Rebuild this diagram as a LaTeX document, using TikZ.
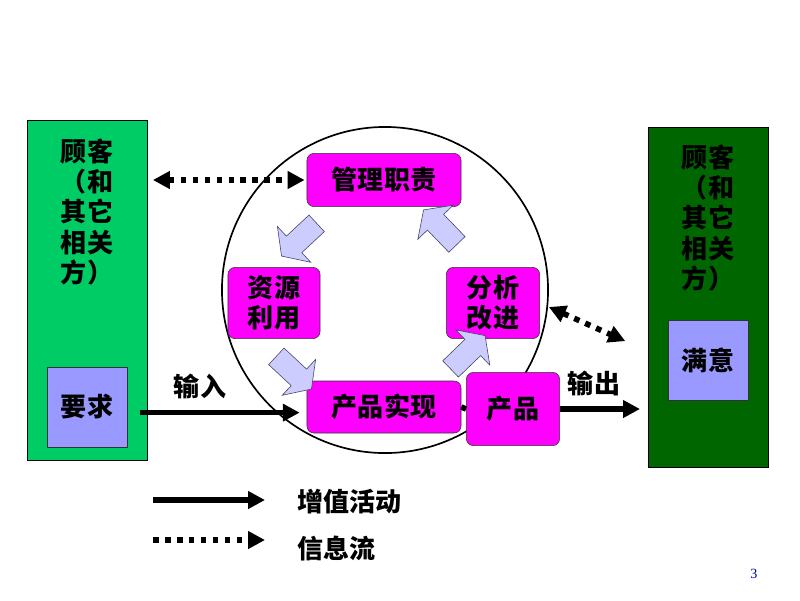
\documentclass[tikz,border=0pt]{standalone}
\usepackage{fontspec}
\setmainfont{Noto Sans CJK SC}
\newfontfamily\pagefont{Liberation Serif}
\usetikzlibrary{arrows.meta,shapes.arrows}
\definecolor{custgreen}{HTML}{00CC66}
\definecolor{custdark}{HTML}{006600}
\definecolor{reqblue}{HTML}{9999FF}
\definecolor{procmag}{HTML}{FF00FF}
\definecolor{turnfill}{HTML}{CCCCFF}
\definecolor{turnline}{HTML}{404060}
\tikzset{
	txt/.style={font=\bfseries\fontsize{18.5pt}{21.5pt}\selectfont,align=center,inner sep=0pt},
	cust/.style={draw,minimum width=3cm,minimum height=8.5cm,inner sep=0pt},
	want/.style={txt,draw=black!80,fill=reqblue,minimum width=2cm,minimum height=2cm},
	proc/.style={txt,draw=black!80,fill=procmag,rounded corners=5pt},
	turn/.style={single arrow,draw=turnline,fill=turnfill,minimum height=1.2cm,
		single arrow head extend=0.33cm,single arrow tip angle=110,inner xsep=0pt,inner ysep=0.275cm},
	>={Triangle[length=12pt,width=12pt]},
	flow/.style={line width=4pt,->},
	info/.style={flow,dash pattern=on 4pt off 4.5pt}
}
\begin{document}
\begin{tikzpicture}[x=0.025cm,y=-0.025cm]
	\useasboundingbox (0,0) rectangle (800,600);
	\node[cust,fill=custgreen] (cust1) at (87,290) {};
	\node[cust,fill=custdark] (cust2) at (708,297) {};
	\node[txt] (name1) at (87,212) {顾客\\（和\\其它\\相关\\方）};
	\node[txt] (name2) at (708,218) {顾客\\（和\\其它\\相关\\方）};
	\node[want] (req) at (87,407) {要求};
	\node[want] (sat) at (708,360) {满意};
	\node[circle,draw,line width=1.2pt,minimum size=8.15cm] (ring) at (385,290) {};
	\node[proc,minimum width=3.85cm,minimum height=1.33cm] (mgmt) at (384,180) {管理职责};
	\node[proc,minimum width=2.3cm,minimum height=1.78cm] (res) at (274,303) {资源\\利用};
	\node[proc,minimum width=2.33cm,minimum height=1.78cm] (ana) at (493,303) {分析\\改进};
	\node[proc,minimum width=3.85cm,minimum height=1.3cm] (real) at (384,407) {产品实现};
	\node[proc,minimum width=2.33cm,minimum height=1.83cm] (prod) at (513,409) {产品};
	\node[turn,rotate=223] (t1) at (302,237) {};
	\node[turn,rotate=-43] (t2) at (291,370) {};
	\node[turn,rotate=44] (t3) at (465,355) {};
	\node[turn,rotate=134] (t4) at (443,230) {};
	\draw[flow,shorten <=9pt,shorten >=5pt] ([yshift=-4pt]req.east) -- ([yshift=-4pt]real.west);
	\node[txt] (inlbl) at (200,386) {输入};
	\draw[line width=4pt] (real.east) -- (prod.west);
	\draw[flow,shorten >=5.5pt] (prod.east) -- (prod.east -| cust2.west);
	\node[txt] (outlbl) at (594,383) {输出};
	\draw[info,<->,shorten <=4pt,shorten >=1.5pt] (mgmt.west -| cust1.east) -- (mgmt.west);
	\draw[info,<->,shorten <=7pt,shorten >=33pt] (ana.east) -- (sat.west);
	\coordinate (k1) at (153,500);
	\coordinate (k2) at (265,500);
	\draw[flow] (k1) -- (k2);
	\node[txt,anchor=west] (keyflow) at (297,502) {增值活动};
	\coordinate (k3) at (153,540);
	\coordinate (k4) at (265,540);
	\draw[info] (k3) -- (k4);
	\node[txt,anchor=west] (keyinfo) at (297,548) {信息流};
	\node[font=\pagefont\fontsize{10pt}{12pt}\selectfont,text=blue!70!black] (page) at (754,574) {3};
\end{tikzpicture}
\end{document}
